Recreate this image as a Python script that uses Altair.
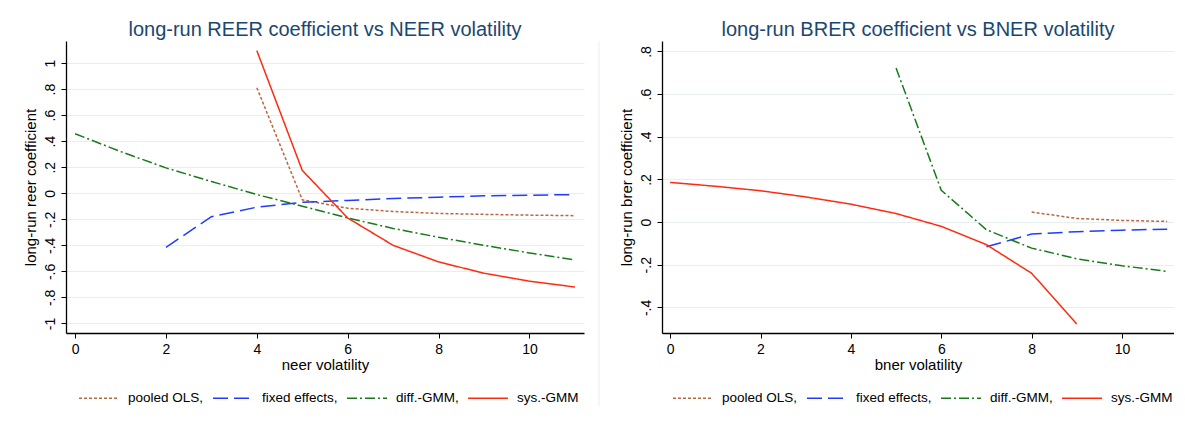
import altair as alt
import pandas as pd

series = ["pooled OLS", "fixed effects", "diff.-GMM", "sys.-GMM"]
colors = ["#b8683e", "#1f3cff", "#1a7a1a", "#ff2a10"]
dashes = [[3, 2], [15, 6], [10, 3, 2, 3], [1, 0]]

# Left panel: long-run REER coefficient vs NEER volatility
l_ols_x = [4, 5, 6, 7, 8, 9, 10, 11]
l_ols_y = [0.81, -0.05, -0.115, -0.14, -0.155, -0.162, -0.168, -0.172]
l_fe_x = [2, 3, 4, 5, 6, 7, 8, 9, 10, 11]
l_fe_y = [-0.415, -0.18, -0.107, -0.07, -0.055, -0.04, -0.03, -0.02, -0.015, -0.01]
l_dg_x = [0, 1, 2, 3, 4, 5, 6, 7, 8, 9, 10, 11]
l_dg_y = [0.457, 0.32, 0.195, 0.09, -0.01, -0.1, -0.19, -0.27, -0.338, -0.4, -0.458, -0.512]
l_sg_x = [4, 5, 6, 7, 8, 9, 10, 11]
l_sg_y = [1.095, 0.175, -0.19, -0.40, -0.527, -0.614, -0.675, -0.72]

# Right panel: long-run BRER coefficient vs BNER volatility
r_ols_x = [8, 9, 10, 11]
r_ols_y = [0.047, 0.017, 0.008, 0.003]
r_fe_x = [7, 8, 9, 10, 11]
r_fe_y = [-0.116, -0.056, -0.045, -0.038, -0.033]
r_dg_x = [5, 6, 7, 8, 9, 10, 11]
r_dg_y = [0.722, 0.149, -0.036, -0.122, -0.172, -0.205, -0.231]
r_sg_x = [0, 1, 2, 3, 4, 5, 6, 7, 8, 9]
r_sg_y = [0.186, 0.168, 0.147, 0.118, 0.084, 0.040, -0.02, -0.106, -0.24, -0.478]

x_ticks = [0, 2, 4, 6, 8, 10]
l_y_ticks = [-1, -0.8, -0.6, -0.4, -0.2, 0, 0.2, 0.4, 0.6, 0.8, 1]
r_y_ticks = [-0.4, -0.2, 0, 0.2, 0.4, 0.6, 0.8]


def make_df(parts):
    rows = []
    for name, xs, ys in parts:
        for xv, yv in zip(xs, ys):
            rows.append({"series": name, "x": xv, "y": yv})
    return pd.DataFrame(rows)


left_df = make_df([
    (series[0], l_ols_x, l_ols_y), (series[1], l_fe_x, l_fe_y),
    (series[2], l_dg_x, l_dg_y), (series[3], l_sg_x, l_sg_y)])
right_df = make_df([
    (series[0], r_ols_x, r_ols_y), (series[1], r_fe_x, r_fe_y),
    (series[2], r_dg_x, r_dg_y), (series[3], r_sg_x, r_sg_y)])

FONT = "Liberation Sans"
YLABEL = ("abs(datum.value) < 1e-9 ? '0' : (abs(datum.value) > 0.99 ? "
          "((datum.value < 0 ? '-' : '') + '1') : "
          "((datum.value < 0 ? '-' : '') + substring(format(abs(datum.value), '.1f'), 1)))")
LEGLABEL = "datum.label + (datum.label == 'sys.-GMM' ? '' : ',')"


def panel(df, title, xtitle, ytitle, xdomain, ydomain, yticks, width, height,
          legend_x, sep=False):
    legend = alt.Legend(
        orient="none", legendX=legend_x, legendY=336, direction="horizontal", title=None,
        symbolType="stroke", symbolSize=1600, symbolStrokeWidth=1.5,
        labelFontSize=13.5, labelFont=FONT, labelColor="#000000", labelOffset=8,
        columnPadding=6, labelLimit=300, labelExpr=LEGLABEL)
    lines = alt.Chart(df).mark_line(strokeWidth=1.5, clip=True).encode(
        x=alt.X("x:Q",
                scale=alt.Scale(domain=xdomain, nice=False, zero=False),
                axis=alt.Axis(values=x_ticks, title=xtitle, format="d")),
        y=alt.Y("y:Q",
                scale=alt.Scale(domain=ydomain, nice=False, zero=False),
                axis=alt.Axis(values=yticks, title=ytitle, labelAngle=270,
                              labelExpr=YLABEL, grid=True)),
        color=alt.Color("series:N", scale=alt.Scale(domain=series, range=colors),
                        legend=legend),
        strokeDash=alt.StrokeDash("series:N", scale=alt.Scale(domain=series, range=dashes),
                                  legend=legend),
    )
    layers = [lines]
    if sep:
        rule = alt.Chart(pd.DataFrame({"k": [0]})).mark_rule(
            color="#e8eff1", strokeWidth=1, clip=False).encode(
            x=alt.value(width + 15), y=alt.value(0), y2=alt.value(365))
        layers.append(rule)
    return alt.layer(*layers).properties(
        width=width, height=height,
        title=alt.TitleParams(title, fontSize=20, color="#1a476f", fontWeight="normal",
                              font=FONT, frame="group", anchor="middle", offset=1))


left = panel(left_df, "long-run REER coefficient vs NEER volatility", "neer volatility",
             "long-run reer coefficient", [-0.2, 11.2], [-1.073, 1.169], l_y_ticks,
             518, 292, 12, sep=True)
right = panel(right_df, "long-run BRER coefficient vs BNER volatility", "bner volatility",
              "long-run brer coefficient", [-0.18, 11.15], [-0.52, 0.849], r_y_ticks,
              512, 292, 10)

chart = alt.hconcat(left, right, spacing=78, bounds="flush").resolve_scale(
    color="independent", strokeDash="independent").resolve_legend(
    color="independent", strokeDash="independent").properties(
    padding={"left": 14, "top": 11, "right": 0, "bottom": 2}
).configure_view(stroke=None).configure_axis(
    labelFont=FONT, titleFont=FONT, labelFontSize=14, titleFontSize=15,
    labelColor="#000000", titleColor="#000000", titleFontWeight="normal",
    domainColor="#000000", domainWidth=1.3, tickColor="#000000", tickSize=5,
    tickWidth=1, labelPadding=4, titlePadding=5, gridColor="#e6eeef", gridWidth=1
).configure_axisX(grid=False, titlePadding=1)

chart.save("out.html", embed_options={"renderer": "svg", "actions": False})
